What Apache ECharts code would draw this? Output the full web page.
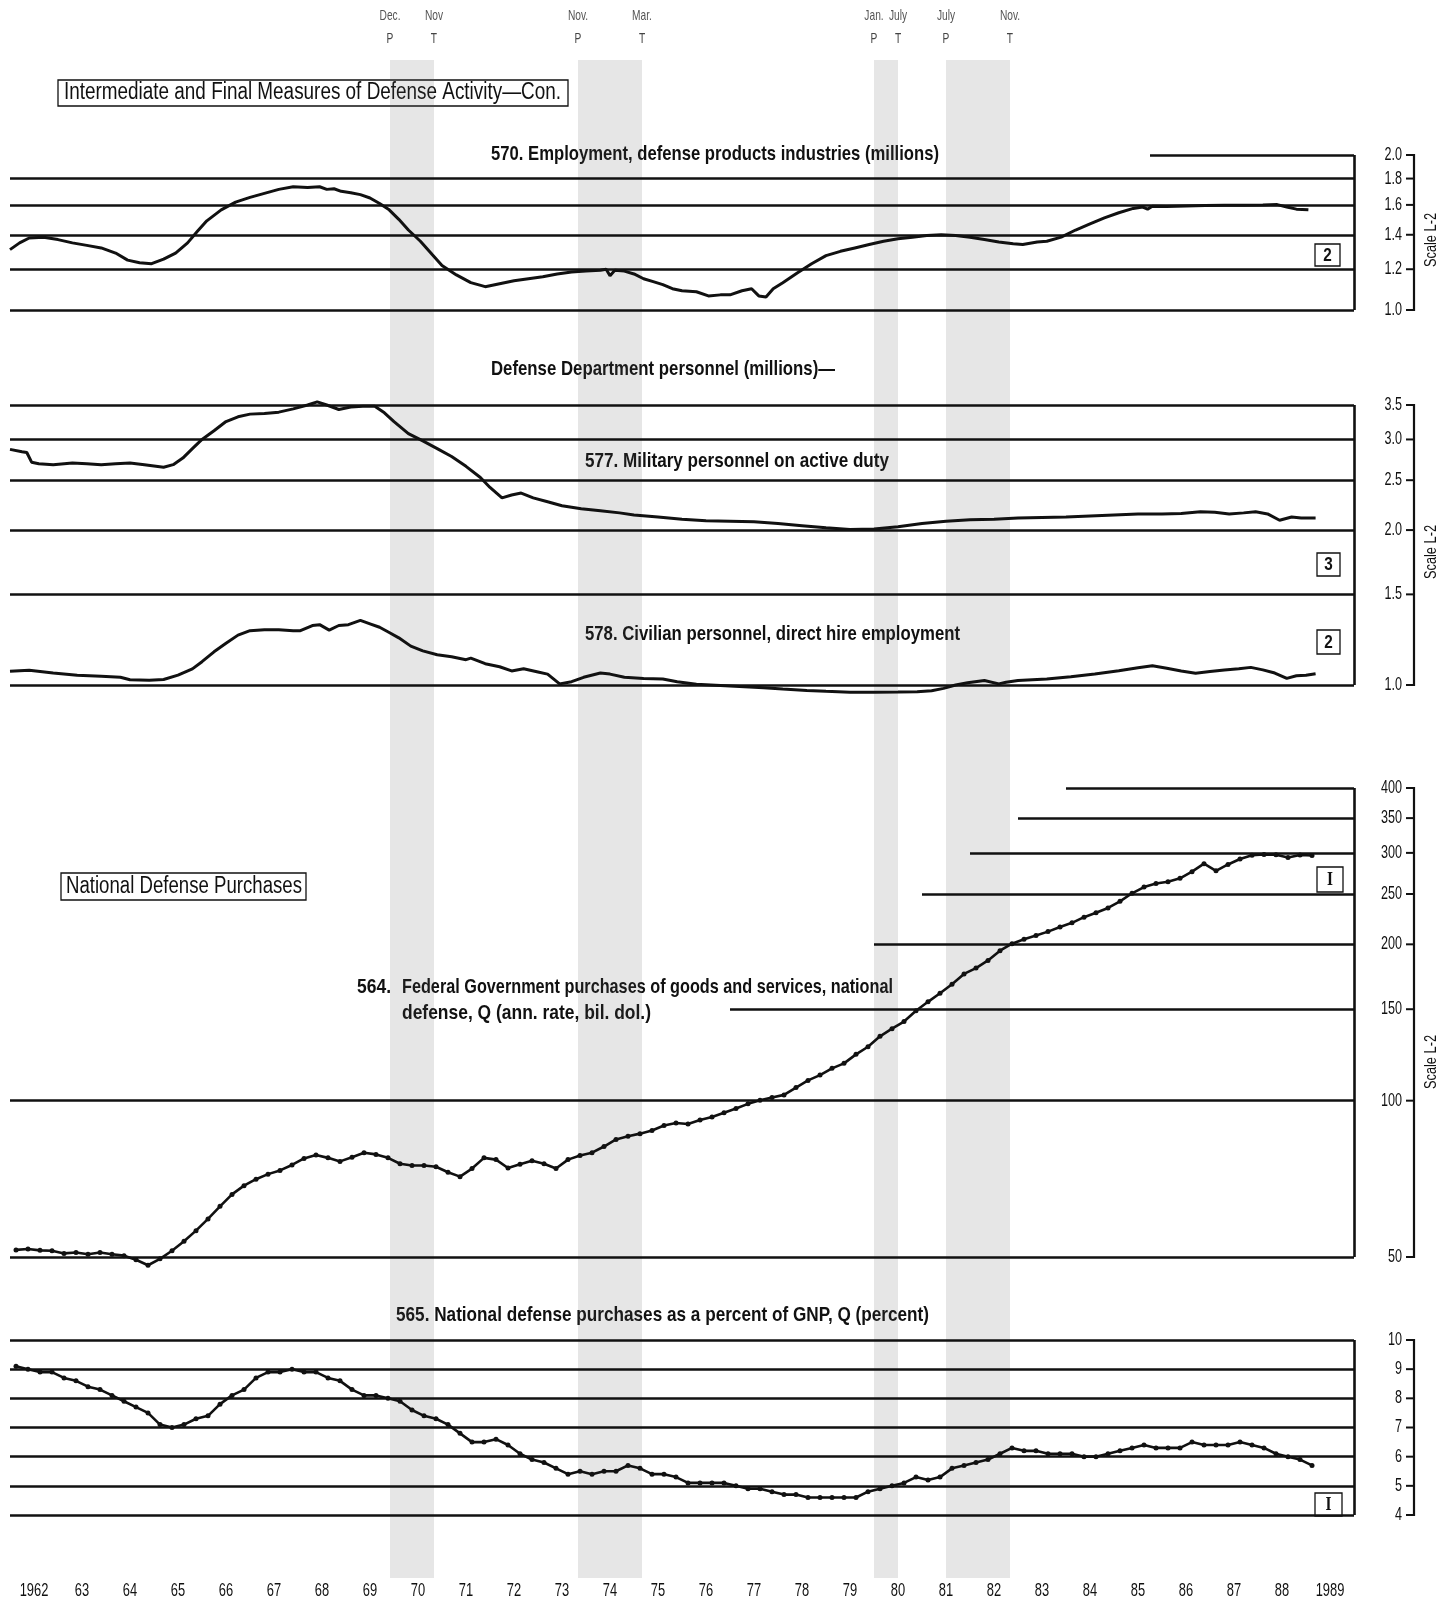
<!DOCTYPE html>
<html>
<head>
<meta charset="utf-8">
<script src="https://cdn.jsdelivr.net/npm/echarts@6/dist/echarts.min.js"></script>
<style>
  html, body { margin: 0; padding: 0; background: #fff; }
  #chart { width: 1436px; height: 1601px; }
</style>
</head>
<body>
<div id="chart"></div>
<script>
// ---- Data -------------------------------------------------------------
const yearLabels = ['1962','63','64','65','66','67','68','69','70','71','72','73','74','75',
  '76','77','78','79','80','81','82','83','84','85','86','87','88','1989'];

// Business-cycle turning points (decimal years), with month and P/T marks
const turnDates  = [1969.917, 1970.833, 1973.833, 1975.167, 1980.0, 1980.5, 1981.5, 1982.833];
const turnMonths = ['Dec.', 'Nov', 'Nov.', 'Mar.', 'Jan.', 'July', 'July', 'Nov.'];
const turnTypes  = ['P', 'T', 'P', 'T', 'P', 'T', 'P', 'T'];

// Scale ticks for each panel
const ticks570 = [1.0, 1.2, 1.4, 1.6, 1.8, 2.0];
const ticks577 = [1.0, 1.5, 2.0, 2.5, 3.0, 3.5];
const ticks564 = [50, 100, 150, 200, 250, 300, 350, 400];
const ticks565 = [4, 5, 6, 7, 8, 9, 10];

// 570. Employment, defense products industries (millions) — monthly, [year, value]
const emp570 = [
  [1962.0,1.31],[1962.2,1.35],[1962.4,1.38],[1962.7,1.385],[1963.0,1.37],[1963.3,1.35],[1963.6,1.335],
  [1963.9,1.32],[1964.2,1.29],[1964.45,1.25],[1964.7,1.235],[1964.95,1.23],[1965.2,1.255],[1965.45,1.29],
  [1965.7,1.35],[1965.9,1.42],[1966.1,1.49],[1966.4,1.565],[1966.7,1.62],[1967.0,1.655],[1967.3,1.685],
  [1967.6,1.715],[1967.9,1.735],[1968.2,1.73],[1968.45,1.735],[1968.6,1.715],[1968.75,1.72],[1968.9,1.70],
  [1969.1,1.69],[1969.3,1.675],[1969.5,1.65],[1969.7,1.61],[1969.9,1.565],[1970.1,1.50],[1970.3,1.43],
  [1970.55,1.36],[1970.8,1.28],[1971.0,1.22],[1971.3,1.17],[1971.6,1.13],[1971.9,1.11],[1972.2,1.125],
  [1972.5,1.14],[1972.8,1.15],[1973.1,1.16],[1973.4,1.175],[1973.7,1.185],[1974.0,1.19],[1974.3,1.195],
  [1974.42,1.20],[1974.5,1.165],[1974.6,1.195],[1974.8,1.19],[1975.0,1.175],[1975.2,1.15],[1975.4,1.135],
  [1975.6,1.12],[1975.8,1.10],[1976.0,1.09],[1976.3,1.085],[1976.55,1.065],[1976.8,1.07],[1977.0,1.07],
  [1977.25,1.09],[1977.45,1.10],[1977.6,1.065],[1977.75,1.06],[1977.9,1.10],[1978.1,1.13],[1978.4,1.18],
  [1978.7,1.23],[1979.0,1.275],[1979.3,1.30],[1979.6,1.32],[1979.9,1.34],[1980.2,1.36],[1980.5,1.375],
  [1980.8,1.385],[1981.1,1.395],[1981.4,1.40],[1981.7,1.395],[1982.0,1.385],[1982.3,1.37],[1982.6,1.355],
  [1982.9,1.345],[1983.1,1.34],[1983.4,1.355],[1983.6,1.36],[1983.9,1.385],[1984.2,1.43],[1984.5,1.47],
  [1984.8,1.51],[1985.1,1.545],[1985.4,1.575],[1985.6,1.585],[1985.7,1.57],[1985.8,1.59],[1986.1,1.588],
  [1986.5,1.592],[1986.9,1.595],[1987.3,1.598],[1987.7,1.598],[1988.1,1.60],[1988.4,1.602],[1988.6,1.585],
  [1988.8,1.57],[1989.05,1.565]
];

// 577. Military personnel on active duty (millions) — monthly, [year, value]
const mil577 = [
  [1962.0,2.87],[1962.25,2.84],[1962.35,2.83],[1962.45,2.71],[1962.6,2.69],[1962.9,2.68],[1963.3,2.70],
  [1963.6,2.69],[1963.9,2.68],[1964.2,2.69],[1964.5,2.70],[1964.8,2.68],[1965.0,2.665],[1965.2,2.65],
  [1965.4,2.68],[1965.6,2.76],[1965.8,2.88],[1966.0,3.00],[1966.25,3.12],[1966.5,3.25],[1966.75,3.32],
  [1967.0,3.36],[1967.3,3.37],[1967.6,3.39],[1967.9,3.44],[1968.2,3.50],[1968.4,3.55],[1968.6,3.50],
  [1968.85,3.43],[1969.1,3.47],[1969.35,3.48],[1969.6,3.48],[1969.8,3.38],[1970.0,3.25],[1970.3,3.08],
  [1970.6,2.98],[1970.9,2.88],[1971.2,2.78],[1971.5,2.66],[1971.8,2.53],[1972.0,2.42],[1972.25,2.31],
  [1972.45,2.34],[1972.65,2.36],[1972.9,2.31],[1973.2,2.27],[1973.5,2.23],[1973.9,2.20],[1974.3,2.18],
  [1974.7,2.16],[1975.0,2.14],[1975.5,2.12],[1976.0,2.10],[1976.5,2.085],[1977.0,2.08],[1977.5,2.075],
  [1978.0,2.06],[1978.5,2.04],[1979.0,2.02],[1979.5,2.005],[1980.0,2.01],[1980.5,2.03],[1981.0,2.06],
  [1981.5,2.08],[1982.0,2.095],[1982.5,2.10],[1983.0,2.11],[1983.5,2.115],[1984.0,2.12],[1984.5,2.13],
  [1985.0,2.14],[1985.5,2.15],[1986.0,2.15],[1986.4,2.155],[1986.8,2.17],[1987.1,2.165],[1987.4,2.15],
  [1987.7,2.16],[1987.95,2.17],[1988.2,2.15],[1988.45,2.09],[1988.7,2.12],[1988.9,2.11],[1989.2,2.11]
];

// 578. Civilian personnel, direct hire employment (millions) — monthly, [year, value]
const civ578 = [
  [1962.0,1.063],[1962.4,1.068],[1962.9,1.055],[1963.4,1.045],[1963.9,1.04],[1964.3,1.035],[1964.5,1.024],
  [1964.9,1.022],[1965.2,1.025],[1965.5,1.045],[1965.8,1.075],[1966.0,1.11],[1966.25,1.16],[1966.5,1.205],
  [1966.75,1.25],[1967.0,1.275],[1967.3,1.28],[1967.6,1.28],[1967.9,1.275],[1968.05,1.275],[1968.3,1.305],
  [1968.45,1.31],[1968.65,1.278],[1968.85,1.305],[1969.05,1.31],[1969.3,1.335],[1969.5,1.315],[1969.7,1.295],
  [1969.9,1.265],[1970.1,1.235],[1970.35,1.19],[1970.6,1.165],[1970.9,1.145],[1971.2,1.135],[1971.5,1.12],
  [1971.6,1.128],[1971.9,1.10],[1972.2,1.085],[1972.45,1.065],[1972.7,1.075],[1973.0,1.06],[1973.2,1.05],
  [1973.45,1.005],[1973.7,1.015],[1973.95,1.035],[1974.3,1.055],[1974.5,1.05],[1974.8,1.035],[1975.2,1.03],
  [1975.6,1.027],[1975.9,1.015],[1976.3,1.003],[1976.8,0.998],[1977.2,0.993],[1977.7,0.988],[1978.1,0.982],
  [1978.6,0.976],[1979.0,0.972],[1979.5,0.968],[1980.0,0.968],[1980.5,0.969],[1980.9,0.970],[1981.2,0.975],
  [1981.45,0.985],[1981.7,1.0],[1981.95,1.01],[1982.3,1.02],[1982.6,1.005],[1982.75,1.012],[1983.0,1.02],
  [1983.6,1.027],[1984.1,1.038],[1984.6,1.05],[1985.1,1.066],[1985.5,1.08],[1985.8,1.09],[1986.1,1.078],
  [1986.4,1.065],[1986.7,1.054],[1987.0,1.062],[1987.3,1.069],[1987.6,1.075],[1987.85,1.082],[1988.1,1.07],
  [1988.35,1.055],[1988.6,1.03],[1988.8,1.042],[1989.0,1.045],[1989.2,1.052]
];

// Quarterly series start in 1962 Q1
const firstQuarterYear = 1962;

// 564. Federal Government purchases, national defense (ann. rate, bil. dol.) — quarterly
const def564 = [
  51.6, 51.8, 51.5, 51.4,   50.8, 51.0, 50.6, 51.0,   50.6, 50.3, 49.4, 48.2,
  49.6, 51.4, 53.6, 56.2,   59.2, 62.6, 66.0, 68.6,   70.6, 72.2, 73.4, 75.2,
  77.4, 78.6, 77.6, 76.4,   77.8, 79.4, 78.8, 77.6,   75.6, 75.0, 75.0, 74.6,
  72.8, 71.4, 74.0, 77.6,   77.0, 74.2, 75.4, 76.6,   75.6, 74.0, 77.0, 78.4,
  79.4, 81.6, 84.2, 85.4,   86.4, 87.6, 89.6, 90.6,   90.2, 91.8, 93.0, 94.8,
  96.6, 98.6, 100.2, 101.4, 102.6, 106.0, 109.4, 112.0, 115.4, 118.0, 122.8, 127.0,
  133.0, 137.6, 142.0, 149.0, 155.0, 161.0, 167.6, 175.4, 180.0, 186.2, 194.4, 200.6,
  204.6, 208.0, 211.6, 216.0, 220.0, 225.6, 230.0, 235.0, 242.0, 250.8, 257.8, 262.0,
  264.0, 268.0, 276.0, 286.0, 277.0, 285.0, 292.0, 297.0, 298.0, 297.6, 294.0, 297.2,
  296.6
];

// 565. National defense purchases as a percent of GNP (percent) — quarterly
const pct565 = [
  9.1, 9.0, 8.9, 8.9,   8.7, 8.6, 8.4, 8.3,   8.1, 7.9, 7.7, 7.5,   7.1, 7.0, 7.1, 7.3,
  7.4, 7.8, 8.1, 8.3,   8.7, 8.9, 8.9, 9.0,   8.9, 8.9, 8.7, 8.6,   8.3, 8.1, 8.1, 8.0,
  7.9, 7.6, 7.4, 7.3,   7.1, 6.8, 6.5, 6.5,   6.6, 6.4, 6.1, 5.9,   5.8, 5.6, 5.4, 5.5,
  5.4, 5.5, 5.5, 5.7,   5.6, 5.4, 5.4, 5.3,   5.1, 5.1, 5.1, 5.1,   5.0, 4.9, 4.9, 4.8,
  4.7, 4.7, 4.6, 4.6,   4.6, 4.6, 4.6, 4.8,   4.9, 5.0, 5.1, 5.3,   5.2, 5.3, 5.6, 5.7,
  5.8, 5.9, 6.1, 6.3,   6.2, 6.2, 6.1, 6.1,   6.1, 6.0, 6.0, 6.1,   6.2, 6.3, 6.4, 6.3,
  6.3, 6.3, 6.5, 6.4,   6.4, 6.4, 6.5, 6.4,   6.3, 6.1, 6.0, 5.9,   5.7
];

// ---- Layout -----------------------------------------------------------
const SANS = "'Liberation Sans',Arial,sans-serif";
const X_MIN = 1962, X_MAX = 1990;
const GRID_LEFT = 10, GRID_RIGHT = 82;
const AXIS_X = 1414;

const panels = [
  { top: 155, bottom: 310, type: 'log',   min: 1,  max: 2,   ticks: ticks570, fmt: v => v.toFixed(1),
    starts: { 2: 1985.75 } },
  { top: 405, bottom: 685, type: 'log',   min: 1,  max: 3.5, ticks: ticks577, fmt: v => v.toFixed(1),
    starts: {} },
  { top: 788, bottom: 1257, type: 'log',  min: 50, max: 400, ticks: ticks564, fmt: v => String(v),
    starts: { 400: 1984, 350: 1983, 300: 1982, 250: 1981, 200: 1980, 150: 1977 } },
  { top: 1340, bottom: 1515, type: 'value', min: 4, max: 10, ticks: ticks565, fmt: v => String(v),
    starts: {} }
];

const quarterX = i => firstQuarterYear + i * 0.25 + 0.125;
const q564 = def564.map((v, i) => [quarterX(i), v]);
const q565 = pct565.map((v, i) => [quarterX(i), v]);

const grids = panels.map(p => ({ left: GRID_LEFT, right: GRID_RIGHT, top: p.top, height: p.bottom - p.top }));
grids.push({ left: GRID_LEFT, right: GRID_RIGHT, top: 60, height: 1518 });   // recession shading

const xAxes = panels.map((p, i) => ({ type: 'value', gridIndex: i, min: X_MIN, max: X_MAX, show: false }));
xAxes.push({ type: 'value', gridIndex: 4, min: X_MIN, max: X_MAX, show: false });

const yAxes = panels.map((p, i) => (p.type === 'log'
  ? { type: 'log', logBase: 10, gridIndex: i, min: p.min, max: p.max, show: false }
  : { type: 'value', gridIndex: i, min: p.min, max: p.max, show: false }));
yAxes.push({ type: 'value', gridIndex: 4, min: 0, max: 1, show: false });

// Ruled lines of each panel: tick rules (some start late, stepped) and right border
function rules(p) {
  const d = p.ticks.map(t => [
    { coord: [p.starts[t] !== undefined ? p.starts[t] : X_MIN, t] },
    { coord: [X_MAX, t] }
  ]);
  d.push([{ coord: [X_MAX, p.min] }, { coord: [X_MAX, p.max] }]);
  return {
    silent: true, symbol: ['none', 'none'], label: { show: false },
    lineStyle: { color: '#111', width: 2.6, type: 'solid' },
    emphasis: { disabled: true }, animation: false, data: d
  };
}

const lineBase = {
  type: 'line', showSymbol: false, clip: false, silent: true, animation: false,
  lineStyle: { color: '#111', width: 3 }, itemStyle: { color: '#111' }, z: 3
};
const dotBase = Object.assign({}, lineBase, {
  showSymbol: true, symbol: 'circle', symbolSize: 5, lineStyle: { color: '#111', width: 2.6 }
});

const series = [
  Object.assign({}, lineBase, { name: '570', xAxisIndex: 0, yAxisIndex: 0, data: emp570, markLine: rules(panels[0]) }),
  Object.assign({}, lineBase, { name: '577', xAxisIndex: 1, yAxisIndex: 1, data: mil577, markLine: rules(panels[1]) }),
  Object.assign({}, lineBase, { name: '578', xAxisIndex: 1, yAxisIndex: 1, data: civ578 }),
  Object.assign({}, dotBase,  { name: '564', xAxisIndex: 2, yAxisIndex: 2, data: q564, markLine: rules(panels[2]) }),
  Object.assign({}, dotBase,  { name: '565', xAxisIndex: 3, yAxisIndex: 3, data: q565, markLine: rules(panels[3]) }),
  {
    type: 'line', xAxisIndex: 4, yAxisIndex: 4, data: [], silent: true, z: 0, animation: false,
    markArea: {
      silent: true, animation: false,
      itemStyle: { color: 'rgba(90,90,90,0.15)' },
      data: turnDates.filter((d, i) => i % 2 === 0).map((d, k) => [{ xAxis: d }, { xAxis: turnDates[2 * k + 1] }])
    }
  }
];

const chart = echarts.init(document.getElementById('chart'), null, { renderer: 'canvas' });
chart.setOption({
  animation: false,
  backgroundColor: '#fff',
  grid: grids, xAxis: xAxes, yAxis: yAxes, series: series
});

// ---- Scales, captions and boxed notes --------------------------------
const g = [];
const measure = document.createElement('canvas').getContext('2d');
const widthOf = (str, font) => { measure.font = font; return measure.measureText(str).width; };

// text drawn condensed by a horizontal scale factor; returns the factor used
function text(str, x, y, font, opts) {
  const o = opts || {};
  let sx = o.scaleX || 1;
  if (o.width) sx = o.width / widthOf(str, font);
  g.push({
    type: 'text', x: x, y: y, scaleX: sx, silent: true, rotation: o.rotation || 0,
    style: { text: str, font: font, fill: o.fill || '#111', textAlign: o.align || 'left', textVerticalAlign: 'middle' }
  });
  return sx;
}
const line = (x1, y1, x2, y2, w) => g.push({
  type: 'line', silent: true, shape: { x1: x1, y1: y1, x2: x2, y2: y2 }, style: { stroke: '#111', lineWidth: w }
});
const box = (x, y, w, h) => g.push({
  type: 'rect', silent: true, shape: { x: x, y: y, width: w, height: h }, style: { fill: '#fff', stroke: '#111', lineWidth: 1.3 }
});

// right-hand scales
panels.forEach((p, i) => {
  const yTop = chart.convertToPixel({ yAxisIndex: i }, p.max);
  const yBot = chart.convertToPixel({ yAxisIndex: i }, p.min);
  line(AXIS_X, yTop - 1, AXIS_X, yBot + 1, 2.2);
  p.ticks.forEach(t => {
    const y = chart.convertToPixel({ yAxisIndex: i }, t);
    line(AXIS_X - 8, y, AXIS_X + 1, y, 2);
    text(p.fmt(t), AXIS_X - 12, y, '18px ' + SANS, { align: 'right', scaleX: 0.7 });
  });
});

// rotated scale notes at the right edge
[240, 552, 1062].forEach(y => {
  g.push({ type: 'text', x: 1432, y: y, rotation: Math.PI / 2, scaleX: 0.8, silent: true,
    style: { text: 'Scale L-2', font: '16px ' + SANS, fill: '#111', textAlign: 'center', textVerticalAlign: 'middle' } });
});

// year labels centred in each year
yearLabels.forEach((s, i) => {
  const x = chart.convertToPixel({ xAxisIndex: 4 }, X_MIN + i + 0.5);
  text(s, x, 1591, '19px ' + SANS, { align: 'center', scaleX: 0.68 });
});

// turning-point marks above the chart
turnDates.forEach((d, i) => {
  const x = chart.convertToPixel({ xAxisIndex: 4 }, d);
  text(turnMonths[i], x, 16, '15px ' + SANS, { align: 'center', fill: '#555', scaleX: 0.68 });
  text(turnTypes[i], x, 39, '15px ' + SANS, { align: 'center', fill: '#444', scaleX: 0.68 });
});

// section headers
box(58, 80, 510, 26);
text('Intermediate and Final Measures of Defense Activity\u2014Con.', 64, 93, '23px ' + SANS, { width: 497 });
box(61, 873, 245, 27);
text('National Defense Purchases', 66, 887, '23px ' + SANS, { width: 236 });

// series captions
const B = 'bold 21px ' + SANS;
text('570. Employment, defense products industries (millions)', 491, 154, B, { width: 448 });
text('Defense Department personnel (millions)\u2014', 491, 369, B, { width: 344 });
text('577. Military personnel on active duty', 585, 461, B, { width: 304 });
text('578. Civilian personnel, direct hire employment', 585, 634, B, { width: 375 });
text('564.', 357, 987, B, { width: 34 });
text('Federal Government purchases of goods and services, national', 402, 987, B, { width: 491 });
text('defense, Q (ann. rate, bil. dol.)', 402, 1013, B, { width: 249 });
text('565. National defense purchases as a percent of GNP, Q (percent)', 396, 1315, B, { width: 533 });

// boxed timing-class notes
const note = (s, x, y, w, h, font) => { box(x, y, w, h); text(s, x + w / 2, y + h / 2 + 1, font, { align: 'center', scaleX: 0.85 }); };
note('2', 1315, 244, 25, 22, 'bold 18px ' + SANS);
note('3', 1317, 553, 23, 23, 'bold 18px ' + SANS);
note('2', 1317, 630, 23, 24, 'bold 18px ' + SANS);
note('I', 1317, 867, 26, 25, 'bold 18px "Liberation Serif",serif');
note('I', 1315, 1493, 27, 23, 'bold 18px "Liberation Serif",serif');

chart.setOption({ graphic: { elements: g } });
</script>
</body>
</html>
